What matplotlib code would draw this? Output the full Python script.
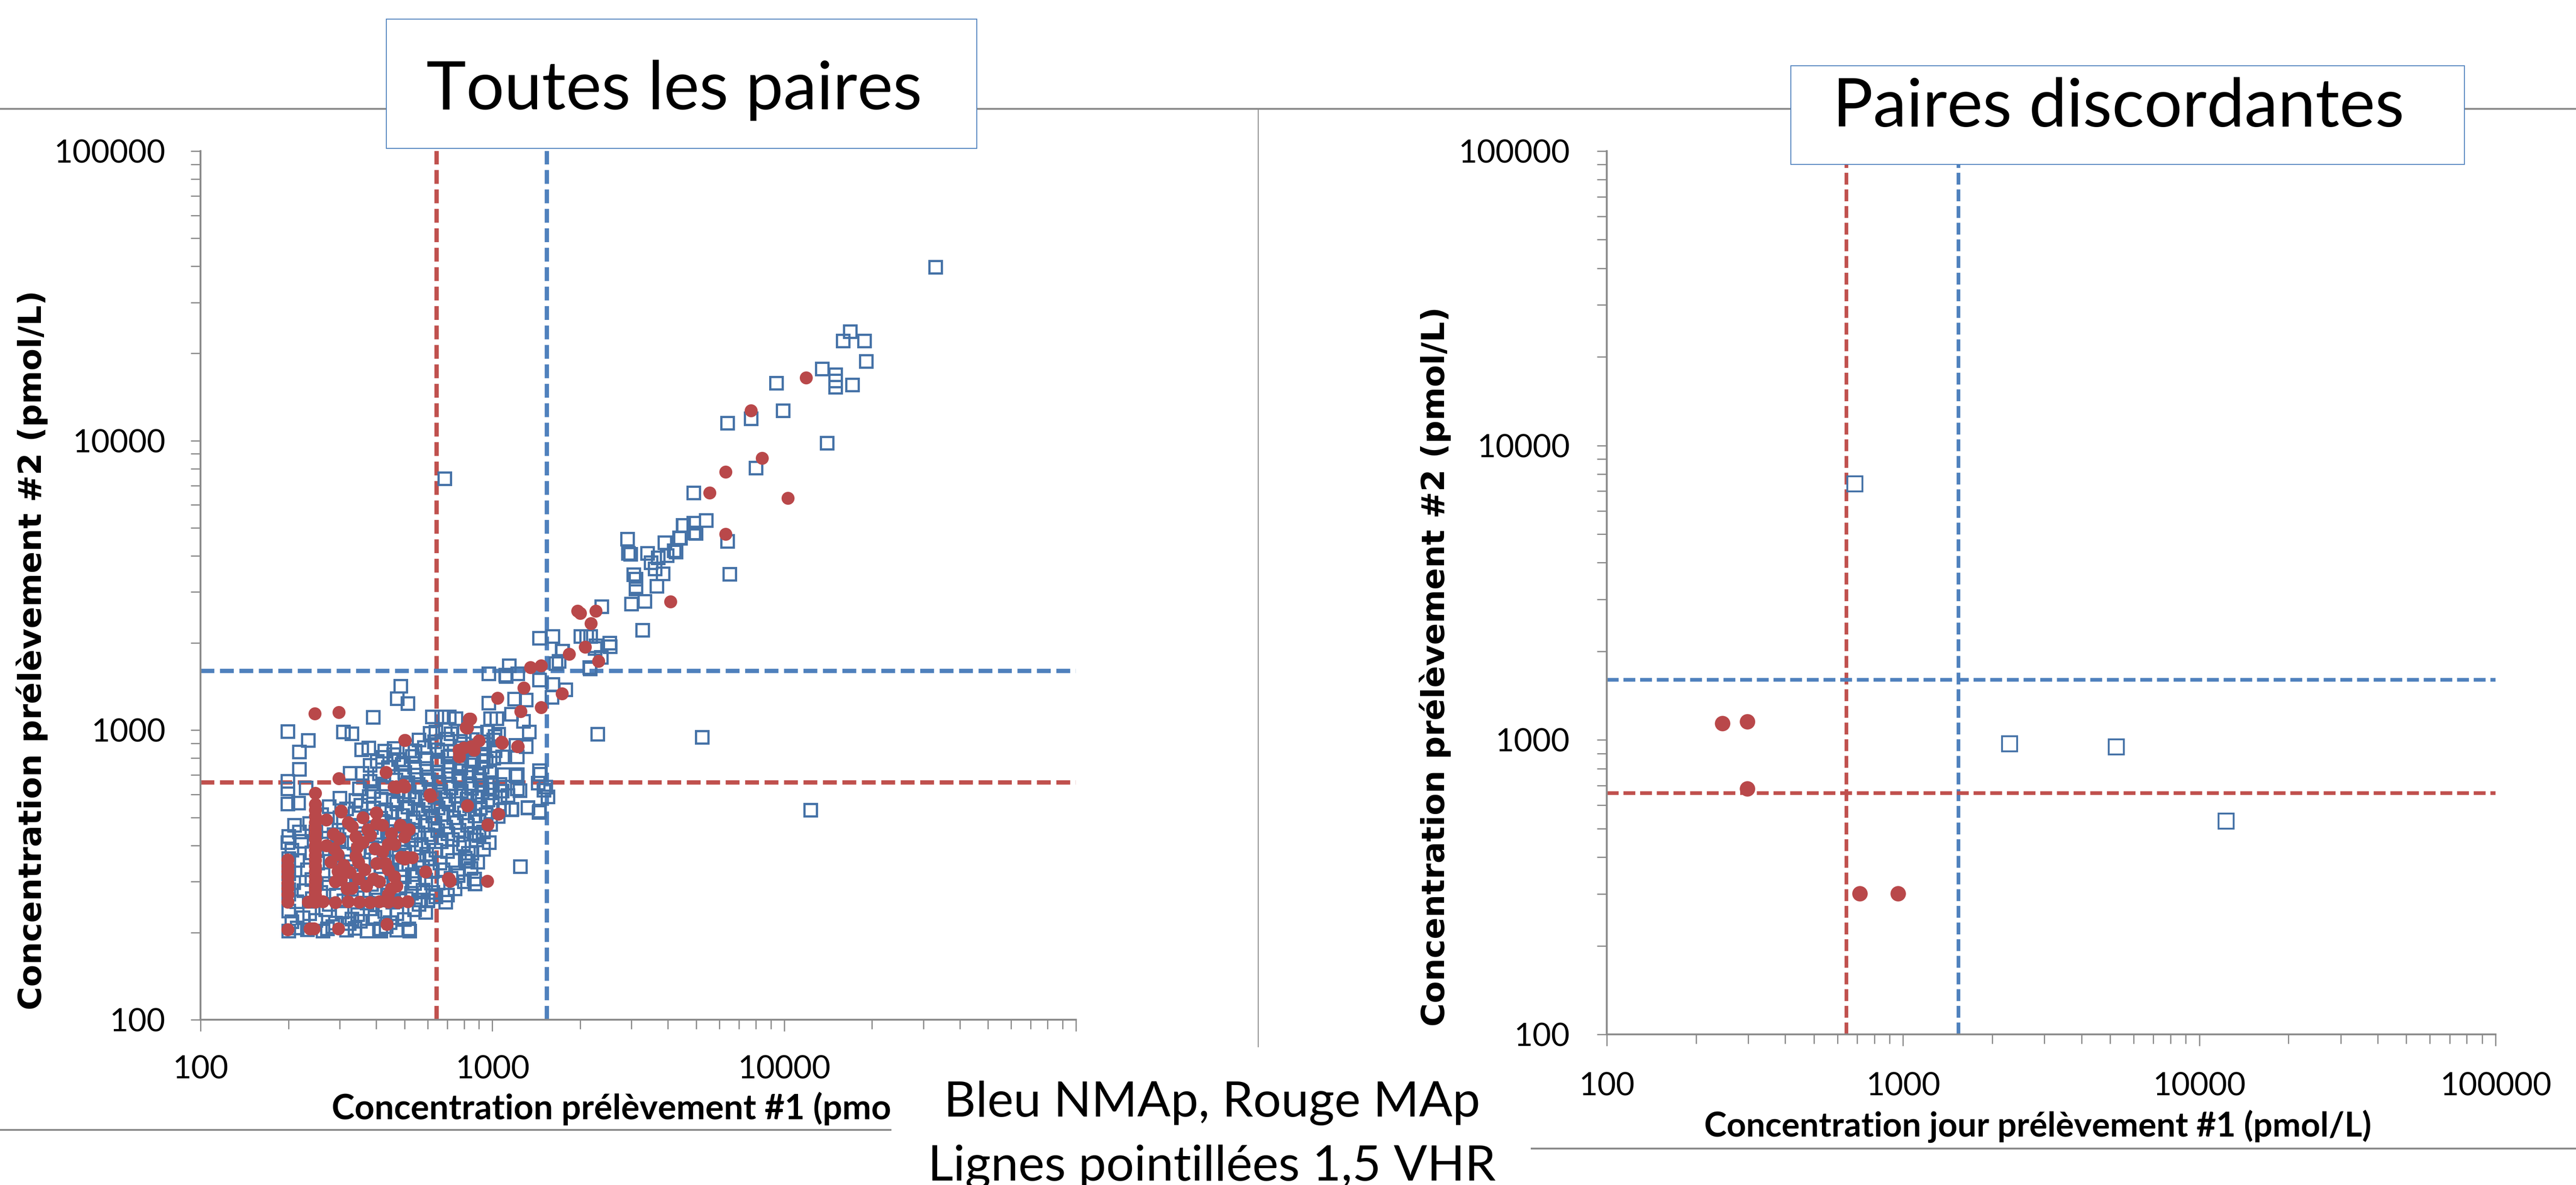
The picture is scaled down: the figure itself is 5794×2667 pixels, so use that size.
import numpy as np
import matplotlib
matplotlib.use('Agg')
import matplotlib.pyplot as plt
from matplotlib.lines import Line2D
from matplotlib.patches import Rectangle
from matplotlib.ticker import LogLocator, FuncFormatter, NullFormatter

W, H = 5794, 2667
DPI = 100

plt.rcParams['font.family'] = ['Lato', 'DejaVu Sans']

BLUE = '#4572A7'
BLUE_LINE = '#4F81BD'
RED = '#B9484A'
RED_LINE = '#C0504D'
GREY = '#8a8a8a'

# seuils 1,5 VHR (lignes pointillees)
seuil_x = [645, 1540]   # rouge MAp, bleu NMAp
seuil_y = [660, 1600]

# paires discordantes (graphique de droite)
disc_nmap = [(687, 7400), (2290, 970), (5240, 946), (12300, 530)]
disc_map = [(246, 1140), (298, 1155), (298, 682), (715, 301), (960, 301)]

# NMAp - diagonale haute
nmap_diag = [
    (33000, 39700), (16800, 23800), (15900, 22100), (18800, 22100), (19100, 18800),
    (13500, 17700), (15000, 16900), (15000, 16100), (15000, 15300), (17100, 15600),
    (9400, 15800), (9900, 12700), (14000, 9800), (6400, 11500), (7700, 11900),
    (8000, 8050), (4900, 6600), (4500, 5100), (4900, 5200), (5400, 5300),
    (4900, 4800), (4400, 4600), (6400, 4500), (6500, 3460), (3900, 4450),
    (4200, 4170), (2900, 4570), (2920, 4080), (2970, 4060), (3400, 4080), (3700, 3950),
    (3500, 3790), (3840, 3470), (3660, 3150), (3050, 3450), (3100, 3330),
    (3100, 3130), (3100, 3080), (3000, 2730), (3330, 2790), (3270, 2220), (2370, 2670),
    (3960, 4010), (3610, 3610), (4260, 4130), (4380, 4620), (4520, 5100), (4980, 4790),
    (1450, 2080), (1610, 2110), (2010, 2110), (2100, 2110), (2170, 2110), (2520, 2000),
    (2250, 1920), (2360, 1790), (1730, 1880), (1690, 1730), (2150, 1650), (2265, 1960),
    (1140, 1670), (970, 1570), (1110, 1550), (1220, 1570), (1650, 1700), (1740, 1880),
    (2160, 1630), (2530, 1945), (970, 1240), (1190, 1280), (1450, 1490), (1780, 1380),
    (1600, 1300), (1610, 1440), (1305, 1273), (1113, 1535),
]

# NMAp - points epars autour du nuage
nmap_mid = [
    (485, 1420), (472, 1285), (512, 1238), (390, 1110), (199, 990), (234, 923), (218, 842),
    (308, 987), (330, 973), (218, 734), (199, 667), (199, 628), (230, 632), (622, 1112),
    (611, 977), (670, 1112), (711, 1112), (749, 1097), (688, 1004), (356, 857), (377, 869),
    (428, 848), (459, 824), (542, 848), (403, 782), (495, 771), (325, 711), (357, 711),
    (670, 848), (647, 771), (703, 809), (771, 755),
    (985, 1097), (1033, 1097), (1161, 1137), (1276, 1074), (1337, 987), (1203, 887),
    (1305, 879), (1217, 809), (1083, 809), (950, 782), (857, 782), (1096, 703), (1217, 703),
    (1458, 706), (1435, 658), (1503, 621), (1550, 589), (1217, 628), (919, 646), (1021, 953),
    (1161, 532), (1321, 540), (1444, 521), (1247, 338), (867, 307), (899, 433), (826, 376),
    (826, 354), (1450, 726), (1520, 637), (1450, 526), (1322, 541), (1166, 533), (1241, 620),
    (1203, 695), (866, 441), (813, 354), (866, 306), (568, 260), (516, 206), (414, 203),
    (323, 215), (272, 206), (618, 297), (763, 315), (815, 353),
    (199, 556), (216, 560), (200, 430), (210, 470), (218, 446), (200, 360), (200, 320),
    (200, 282), (199, 410),
]

# NMAp - nuage dense
nmap_cluster = [
    (200, 203), (214, 208), (232, 205), (262, 203), (283, 210), (316, 204), (338, 207),
    (372, 203), (414, 206), (432, 210), (470, 204), (520, 203),
    (205, 218), (224, 225), (248, 221), (290, 216), (330, 223), (352, 219), (396, 226),
    (445, 217), (498, 222),
    (200, 238), (236, 233), (268, 240), (305, 236), (345, 231), (380, 242), (428, 237),
    (470, 233), (540, 240), (590, 235),
    (213, 256), (241, 262), (276, 251), (310, 258), (344, 264), (372, 253), (405, 260),
    (455, 255), (505, 262), (560, 251), (600, 258), (640, 266), (690, 255),
    (200, 272), (226, 280), (258, 276), (292, 270), (328, 283), (362, 274), (398, 279),
    (436, 270), (482, 286), (528, 274), (578, 281), (625, 276), (700, 270), (745, 284),
    (208, 298), (240, 305), (275, 296), (310, 310), (348, 300), (385, 294), (420, 307),
    (458, 299), (498, 312), (540, 296), (590, 304), (652, 297), (720, 309), (800, 300),
    (870, 295),
    (200, 322), (232, 330), (262, 318), (300, 335), (338, 326), (376, 320), (414, 338),
    (452, 324), (490, 330), (532, 318), (575, 336), (622, 325), (676, 330), (760, 322),
    (845, 334),
    (215, 356), (252, 348), (290, 362), (326, 352), (362, 344), (398, 358), (436, 350),
    (478, 364), (516, 346), (560, 356), (608, 360), (660, 348), (730, 355), (805, 362),
    (890, 350),
    (205, 385), (240, 378), (276, 390), (312, 374), (348, 384), (386, 394), (424, 377),
    (460, 388), (500, 380), (546, 392), (594, 374), (640, 386), (700, 381), (770, 394),
    (850, 376), (930, 388),
    (222, 414), (260, 405), (298, 420), (336, 408), (372, 416), (410, 402), (446, 424),
    (486, 410), (528, 418), (570, 404), (618, 426), (668, 412), (728, 420), (795, 405),
    (880, 418), (975, 410),
    (248, 445), (286, 436), (324, 452), (360, 440), (398, 432), (436, 448), (474, 438),
    (514, 456), (556, 442), (600, 436), (648, 450), (704, 440), (768, 452), (840, 438),
    (930, 446),
    (236, 476), (270, 468), (308, 482), (346, 470), (384, 462), (420, 486), (460, 474),
    (500, 466), (542, 484), (588, 470), (636, 478), (690, 464), (752, 480), (820, 470),
    (900, 484), (985, 474),
    (260, 512), (300, 500), (338, 516), (376, 506), (414, 498), (452, 520), (492, 508),
    (534, 500), (578, 518), (624, 506), (676, 514), (735, 500), (800, 518), (872, 506),
    (950, 512), (1045, 504),
    (276, 545), (316, 536), (354, 552), (392, 540), (430, 532), (470, 556), (512, 544),
    (556, 534), (602, 550), (652, 540), (708, 556), (770, 536), (836, 550), (910, 540),
    (1000, 552), (1090, 534),
    (300, 584), (340, 572), (378, 592), (416, 578), (456, 570), (498, 594), (542, 580),
    (588, 572), (636, 588), (690, 576), (750, 594), (818, 578), (890, 590), (965, 574),
    (1060, 586), (1130, 596),
    (350, 628), (392, 614), (432, 634), (474, 620), (518, 612), (564, 636), (612, 622),
    (664, 614), (720, 632), (782, 618), (848, 630), (920, 612), (1000, 626), (1080, 616),
    (380, 668), (424, 654), (466, 674), (512, 660), (556, 650), (604, 676), (656, 662),
    (712, 652), (772, 670), (836, 656), (906, 672), (980, 660), (1060, 650),
    (410, 708), (455, 694), (500, 716), (546, 700), (596, 690), (650, 718), (706, 702),
    (766, 694), (830, 712), (900, 698), (978, 716),
    (380, 758), (440, 744), (490, 762), (540, 748), (594, 740), (652, 766), (712, 752),
    (778, 742), (848, 760), (920, 746),
    (420, 806), (476, 792), (532, 812), (592, 798), (652, 790), (716, 816), (784, 800),
    (856, 794), (932, 812), (1010, 800),
    (460, 866), (520, 850), (584, 872), (648, 858), (716, 848), (788, 870), (862, 856),
    (940, 868), (1020, 852),
    (560, 926), (632, 912), (700, 932), (776, 916), (852, 928), (930, 912), (1010, 926),
    (640, 986), (720, 972), (800, 990), (880, 976), (960, 988), (1050, 970),
]

# MAp - diagonale et points epars
map_upper = [
    (11900, 16500), (7700, 12700), (8400, 8700), (6300, 7800), (5560, 6600),
    (10300, 6330), (6300, 4750), (4080, 2780), (1960, 2580), (2000, 2540),
    (2260, 2580), (2180, 2340), (2080, 1940), (1830, 1830), (2310, 1730),
    (1350, 1650), (1470, 1670), (1280, 1400), (1040, 1290), (1730, 1340),
    (1250, 1160), (1470, 1200), (840, 1093), (900, 920), (1076, 910), (1224, 879),
    (847, 879), (820, 1020), (770, 854), (865, 854), (1080, 903), (1220, 880),
    (614, 591), (822, 549), (1050, 513), (964, 472), (706, 308), (590, 324),
    (500, 923), (432, 716), (247, 607), (472, 635), (495, 645), (611, 600),
    (798, 869), (771, 809), (812, 1023), (435, 214), (486, 365), (507, 365),
    (832, 1094), (818, 1018), (768, 854), (1079, 903), (502, 923), (614, 591),
]

# MAp - nuage bas (colonne a 250, ligne a 255)
map_cluster = [
    (247, 555), (247, 530), (247, 505), (247, 480), (247, 460), (247, 440), (247, 420),
    (247, 400), (247, 385), (247, 370), (247, 355), (247, 340), (247, 325), (247, 312),
    (247, 300), (247, 290), (247, 280), (247, 270), (247, 262), (247, 255),
    (199, 357), (199, 340), (199, 326), (199, 312), (199, 297), (199, 285), (199, 271),
    (199, 255), (199, 205),
    (234, 255), (262, 256), (290, 254), (320, 256), (350, 255), (380, 254), (410, 256),
    (440, 255), (475, 254), (513, 256),
    (237, 206), (245, 206), (297, 206),
    (303, 522), (401, 517), (401, 477), (331, 465), (374, 454), (483, 470), (519, 454),
    (285, 438), (299, 423), (340, 429), (382, 433), (500, 429), (440, 404), (461, 404),
    (286, 390), (344, 394), (396, 390), (296, 372), (340, 367), (500, 359), (531, 363),
    (310, 342), (348, 351), (401, 347), (430, 347), (296, 326), (325, 323), (365, 330),
    (440, 330), (461, 312), (303, 304), (348, 307), (392, 307), (248, 307), (317, 284),
    (451, 284), (440, 271), (711, 307), (303, 526), (400, 519), (460, 637), (500, 637),
    (270, 490), (320, 480), (360, 500), (420, 470), (280, 350), (370, 290), (410, 300),
    (330, 285), (290, 300), (470, 290), (360, 410), (420, 380), (450, 440), (270, 400),
]


def pts(*groups):
    arr = np.array([p for g in groups for p in g], dtype=float)
    return arr[:, 0], arr[:, 1]


def fig_rect(x0, y0, x1, y1):
    # pixel box (top-left origin) -> figure fraction
    return [x0 / W, 1 - y1 / H, (x1 - x0) / W, (y1 - y0) / H]


def style_axes(ax, xpad, ypad):
    ax.set_xscale('log')
    ax.set_yscale('log')
    ax.set_xlim(100, 100000)
    ax.set_ylim(100, 100000)
    for s in ['top', 'right']:
        ax.spines[s].set_visible(False)
    for s in ['left', 'bottom']:
        ax.spines[s].set_color(GREY)
        ax.spines[s].set_linewidth(3)
    fmt = FuncFormatter(lambda v, p: f'{v:.0f}')
    for axis in (ax.xaxis, ax.yaxis):
        axis.set_major_locator(LogLocator(base=10, numticks=10))
        axis.set_minor_locator(LogLocator(base=10, subs=np.arange(2, 10), numticks=10))
        axis.set_major_formatter(fmt)
        axis.set_minor_formatter(NullFormatter())
    ax.tick_params(which='both', direction='out', color=GREY, width=2,
                   labelsize=52, labelcolor='black')
    ax.tick_params(axis='x', which='major', length=19, pad=xpad)
    ax.tick_params(axis='x', which='minor', length=15)
    ax.tick_params(axis='y', which='both', length=16, pad=ypad)


def draw_seuils(ax, lw, dash):
    ax.axvline(seuil_x[0], color=RED_LINE, lw=lw, dashes=dash, zorder=1)
    ax.axvline(seuil_x[1], color=BLUE_LINE, lw=lw, dashes=dash, zorder=1)
    ax.axhline(seuil_y[0], color=RED_LINE, lw=lw, dashes=dash, zorder=1)
    ax.axhline(seuil_y[1], color=BLUE_LINE, lw=lw, dashes=dash, zorder=1)


fig = plt.figure(figsize=(W / DPI, H / DPI), dpi=DPI)

# --- Toutes les paires
ax1 = fig.add_axes(fig_rect(451, 340, 2420, 2295))
style_axes(ax1, 38, 41)
draw_seuils(ax1, 7, (3.2, 1.3))
bx, by = pts(nmap_diag, nmap_mid, nmap_cluster, disc_nmap)
rx, ry = pts(map_upper, map_cluster, disc_map)
ax1.plot(bx, by, ls='none', marker='s', ms=19.5, mfc='none', mec=BLUE, mew=3.6, zorder=3)
ax1.plot(rx, ry, ls='none', marker='o', ms=21, mfc=RED, mec='none', zorder=4)

# --- Paires discordantes
ax2 = fig.add_axes(fig_rect(3614, 340, 5613, 2328))
style_axes(ax2, 42, 44)
draw_seuils(ax2, 6, (3.2, 1.3))
dbx, dby = pts(disc_nmap)
drx, dry = pts(disc_map)
ax2.plot(dbx, dby, ls='none', marker='s', ms=25, mfc='none', mec=BLUE, mew=3, zorder=3)
ax2.plot(drx, dry, ls='none', marker='o', ms=25, mfc=RED, mec='none', zorder=4)

# axis titles
fig.text(746 / W, 1 - 2519 / H, 'Concentration prélèvement #1 (pmol/L)',
         ha='left', va='baseline', fontsize=56, fontweight='bold', zorder=2)
fig.text(3833 / W, 1 - 2558 / H, 'Concentration jour prélèvement #1 (pmol/L)',
         ha='left', va='baseline', fontsize=55, fontweight='bold', zorder=2)
for xc, yc in [(72, 1463), (3228, 1500)]:
    fig.text(xc / W, 1 - yc / H, 'Concentration prélèvement #2 (pmol/L)', rotation=90,
             ha='center', va='center', fontsize=52, fontweight='bold',
             family=['DejaVu Sans'], zorder=2)

# slide decorations: grey rules
fig.add_artist(Line2D([0, 1], [1 - 245 / H] * 2, transform=fig.transFigure,
                      color=GREY, lw=3, zorder=1))
fig.add_artist(Line2D([2830 / W] * 2, [1 - 245 / H, 1 - 2357 / H],
                      transform=fig.transFigure, color=GREY, lw=1.5, zorder=1))
fig.add_artist(Line2D([0, 2005 / W], [1 - 2543 / H] * 2, transform=fig.transFigure,
                      color=GREY, lw=3, zorder=1))
fig.add_artist(Line2D([3443 / W, 1], [1 - 2585 / H] * 2, transform=fig.transFigure,
                      color=GREY, lw=3, zorder=1))

# title boxes
fig.add_artist(Rectangle((869 / W, 1 - 334 / H), (2197 - 869) / W, (334 - 43) / H,
                         transform=fig.transFigure, fc='white', ec=BLUE_LINE, lw=1.5, zorder=5))
fig.add_artist(Rectangle((4028 / W, 1 - 370 / H), (5543 - 4028) / W, (370 - 148) / H,
                         transform=fig.transFigure, fc='white', ec=BLUE_LINE, lw=1.5, zorder=5))
fig.text(1516 / W, 1 - 246 / H, 'Toutes les paires', ha='center', va='baseline',
         fontsize=109, zorder=6)
fig.text(4765 / W, 1 - 285 / H, 'Paires discordantes', ha='center', va='baseline',
         fontsize=109, zorder=6)

# bottom caption box (covers the end of the left x axis)
fig.add_artist(Rectangle((2005 / W, 0), (3443 - 2005) / W, (H - 2357) / H,
                         transform=fig.transFigure, fc='white', ec='none', zorder=5))
fig.text(2726 / W, 1 - 2513 / H, 'Bleu NMAp, Rouge MAp', ha='center', va='baseline',
         fontsize=80, zorder=6)
fig.text(2726 / W, 1 - 2657 / H, 'Lignes pointillées 1,5 VHR', ha='center', va='baseline',
         fontsize=80, zorder=6)

fig.savefig('out.png', dpi=DPI, facecolor='white')
